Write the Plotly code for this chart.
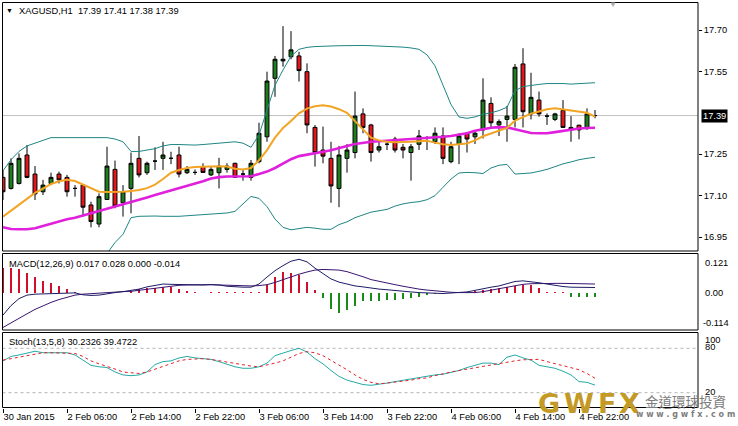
import plotly.graph_objects as go

# ---------------- data ----------------
opens = [17.166, 17.126, 17.144, 17.247, 17.178, 17.114, 17.144, 17.178, 17.166, 17.126,
         17.138, 17.066, 16.997, 17.086, 17.195, 17.074, 17.126, 17.235, 17.183, 17.225,
         17.235, 17.235, 17.247, 17.183, 17.184, 17.205, 17.175, 17.183, 17.195, 17.217,
         17.178, 17.166, 17.223, 17.313, 17.525, 17.588, 17.603, 17.606, 17.549, 17.347,
         17.265, 17.235, 17.126, 17.235, 17.256, 17.396, 17.356, 17.265, 17.286, 17.305,
         17.275, 17.256, 17.286, 17.307, 17.295, 17.316, 17.223, 17.286, 17.326, 17.313,
         17.338, 17.434, 17.356, 17.376, 17.376, 17.577, 17.396, 17.446, 17.388, 17.376,
         17.408, 17.338, 17.355, 17.347, 17.39]
highs = [17.193, 17.235, 17.253, 17.283, 17.207, 17.157, 17.183, 17.187, 17.175, 17.138,
         17.142, 17.078, 17.108, 17.277, 17.227, 17.138, 17.256, 17.316, 17.223, 17.275,
         17.295, 17.259, 17.277, 17.207, 17.195, 17.217, 17.205, 17.237, 17.217, 17.219,
         17.195, 17.229, 17.364, 17.549, 17.606, 17.714, 17.696, 17.621, 17.579, 17.356,
         17.350, 17.295, 17.280, 17.287, 17.477, 17.416, 17.360, 17.295, 17.295, 17.313,
         17.287, 17.287, 17.338, 17.316, 17.347, 17.347, 17.295, 17.326, 17.328, 17.332,
         17.525, 17.456, 17.376, 17.425, 17.577, 17.634, 17.545, 17.477, 17.398, 17.400,
         17.446, 17.388, 17.357, 17.416, 17.41]
lows = [17.084, 17.122, 17.140, 17.163, 17.084, 17.102, 17.138, 17.144, 17.096, 17.096,
        17.024, 16.985, 16.985, 17.084, 17.054, 17.024, 17.036, 17.166, 17.175, 17.193,
        17.193, 17.214, 17.166, 17.178, 17.175, 17.183, 17.171, 17.126, 17.183, 17.164,
        17.154, 17.154, 17.217, 17.295, 17.458, 17.567, 17.594, 17.513, 17.326, 17.205,
        17.217, 17.074, 17.058, 17.183, 17.235, 17.326, 17.223, 17.256, 17.265, 17.256,
        17.235, 17.154, 17.265, 17.265, 17.287, 17.214, 17.217, 17.214, 17.256, 17.287,
        17.307, 17.347, 17.316, 17.295, 17.347, 17.347, 17.376, 17.386, 17.356, 17.370,
        17.347, 17.295, 17.304, 17.338, 17.38]
closes = [17.114, 17.217, 17.235, 17.166, 17.106, 17.138, 17.166, 17.157, 17.114, 17.126,
          17.058, 17.006, 17.096, 17.207, 17.062, 17.114, 17.217, 17.175, 17.217, 17.225,
          17.247, 17.235, 17.178, 17.195, 17.184, 17.184, 17.195, 17.207, 17.207, 17.166,
          17.178, 17.217, 17.326, 17.515, 17.594, 17.594, 17.628, 17.553, 17.356, 17.256,
          17.243, 17.135, 17.247, 17.265, 17.388, 17.347, 17.256, 17.277, 17.286, 17.265,
          17.265, 17.277, 17.316, 17.307, 17.326, 17.235, 17.277, 17.316, 17.305, 17.326,
          17.446, 17.364, 17.368, 17.388, 17.565, 17.404, 17.456, 17.396, 17.388, 17.396,
          17.347, 17.347, 17.338, 17.396, 17.39]

bb_upper = [17.19, 17.23, 17.26, 17.28, 17.29, 17.30, 17.31, 17.31, 17.31, 17.31,
            17.31, 17.31, 17.31, 17.31, 17.305, 17.295, 17.26, 17.26, 17.265, 17.27,
            17.28, 17.285, 17.285, 17.283, 17.283, 17.285, 17.288, 17.29, 17.293, 17.295,
            17.29, 17.275, 17.32, 17.41, 17.50, 17.555, 17.605, 17.63, 17.637, 17.64,
            17.64, 17.642, 17.643, 17.644, 17.644, 17.644, 17.643, 17.642, 17.641, 17.64,
            17.638, 17.635, 17.63, 17.61, 17.57, 17.50, 17.43, 17.385, 17.38, 17.385,
            17.395, 17.40, 17.408, 17.42, 17.48, 17.495, 17.50, 17.503, 17.506, 17.507,
            17.506, 17.504, 17.505, 17.507, 17.509]
bb_lower = [16.80, 16.78, 16.76, 16.75, 16.74, 16.74, 16.75, 16.76, 16.77, 16.79,
            16.82, 16.84, 16.86, 16.89, 16.93, 16.96, 17.02, 17.025, 17.026, 17.026,
            17.025, 17.024, 17.025, 17.027, 17.03, 17.031, 17.033, 17.035, 17.037, 17.043,
            17.07, 17.097, 17.09, 17.06, 17.015, 16.985, 16.976, 16.98, 16.985, 16.982,
            16.978, 16.978, 16.995, 17.005, 17.02, 17.03, 17.04, 17.045, 17.05, 17.062,
            17.07, 17.075, 17.078, 17.085, 17.10, 17.13, 17.16, 17.182, 17.184, 17.183,
            17.18, 17.20, 17.21, 17.213, 17.178, 17.18, 17.182, 17.188, 17.195, 17.205,
            17.215, 17.222, 17.23, 17.235, 17.239]
ma_fast = [17.024, 17.045, 17.065, 17.088, 17.11, 17.125, 17.142, 17.152, 17.157, 17.153,
           17.14, 17.125, 17.114, 17.113, 17.113, 17.114, 17.117, 17.12, 17.127, 17.14,
           17.16, 17.183, 17.193, 17.20, 17.204, 17.205, 17.206, 17.206, 17.205, 17.197,
           17.195, 17.20, 17.228, 17.265, 17.31, 17.345, 17.37, 17.398, 17.415, 17.424,
           17.427, 17.423, 17.413, 17.40, 17.37, 17.34, 17.31, 17.30, 17.295, 17.293,
           17.293, 17.295, 17.297, 17.299, 17.292, 17.286, 17.283, 17.285, 17.289, 17.30,
           17.315, 17.325, 17.335, 17.345, 17.372, 17.385, 17.397, 17.405, 17.413, 17.416,
           17.412, 17.408, 17.406, 17.40, 17.386]
ma_slow = [16.985, 16.979, 16.978, 16.978, 16.982, 16.99, 17.00, 17.008, 17.014, 17.02,
           17.028, 17.035, 17.043, 17.051, 17.06, 17.068, 17.076, 17.084, 17.093, 17.102,
           17.11, 17.119, 17.128, 17.135, 17.142, 17.152, 17.162, 17.167, 17.169, 17.169,
           17.169, 17.17, 17.178, 17.187, 17.20, 17.217, 17.232, 17.243, 17.249, 17.254,
           17.259, 17.264, 17.273, 17.28, 17.287, 17.292, 17.295, 17.297, 17.299, 17.301,
           17.302, 17.303, 17.305, 17.307, 17.31, 17.313, 17.316, 17.32, 17.326, 17.335,
           17.341, 17.346, 17.348, 17.347, 17.34, 17.333, 17.327, 17.326, 17.326, 17.33,
           17.335, 17.34, 17.343, 17.345, 17.346]

macd_main = [-0.070, -0.040, -0.018, -0.007, -0.004, -0.003, -0.001, 0.000, 0.001, 0.000,
             -0.006, -0.008, -0.007, -0.002, 0.001, 0.004, 0.007, 0.012, 0.019, 0.024,
             0.028, 0.027, 0.026, 0.025, 0.024, 0.025, 0.026, 0.025, 0.021, 0.019,
             0.018, 0.018, 0.028, 0.050, 0.070, 0.086, 0.100, 0.106, 0.098, 0.078,
             0.060, 0.044, 0.034, 0.028, 0.022, 0.019, 0.015, 0.012, 0.010, 0.007,
             0.005, 0.003, 0.001, -0.001, -0.001, -0.002, -0.001, 0.000, 0.003, 0.008,
             0.014, 0.018, 0.022, 0.030, 0.036, 0.038, 0.036, 0.032, 0.028, 0.023,
             0.020, 0.018, 0.017, 0.017, 0.017]
macd_signal = [-0.109, -0.094, -0.080, -0.066, -0.052, -0.040, -0.030, -0.021, -0.013, -0.007,
               -0.004, -0.002, -0.001, 0.001, 0.003, 0.004, 0.005, 0.008, 0.011, 0.015,
               0.019, 0.022, 0.024, 0.025, 0.026, 0.026, 0.026, 0.025, 0.024, 0.023,
               0.022, 0.022, 0.023, 0.026, 0.033, 0.042, 0.051, 0.059, 0.066, 0.072,
               0.074, 0.074, 0.072, 0.067, 0.060, 0.051, 0.042, 0.036, 0.031, 0.026,
               0.021, 0.016, 0.012, 0.009, 0.006, 0.004, 0.002, 0.001, 0.001, 0.001,
               0.004, 0.009, 0.014, 0.019, 0.024, 0.027, 0.029, 0.030, 0.030, 0.030,
               0.030, 0.029, 0.029, 0.028, 0.028]
macd_hist = [0.078, 0.078, 0.074, 0.062, 0.051, 0.039, 0.032, 0.022, 0.011, 0.004,
             0.0, 0.0, 0.0, 0.0, 0.0, 0.0, 0.007, 0.011, 0.014, 0.017,
             0.020, 0.020, 0.011, 0.007, 0.002, 0.001, 0.002, 0.002, 0.002, 0.002,
             0.002, 0.002, 0.003, 0.025, 0.050, 0.067, 0.062, 0.057, 0.035, 0.009,
             -0.017, -0.052, -0.062, -0.054, -0.041, -0.027, -0.027, -0.025, -0.023, -0.021,
             -0.019, -0.016, -0.013, -0.006, -0.002, -0.002, 0.0, 0.001, 0.003, 0.007,
             0.009, 0.011, 0.014, 0.018, 0.022, 0.025, 0.025, 0.015, 0.002, 0.002,
             0.002, -0.012, -0.012, -0.013, -0.014]

stoch_k = [63, 69, 71, 74, 76, 74, 74, 74, 74, 71,
           64, 57, 55, 54, 48, 44, 43, 44, 48, 58,
           62, 63, 67, 69, 67, 66, 65, 62, 58, 55,
           53, 53, 55, 60, 70, 74, 77, 80, 75, 66,
           59, 50, 42, 37, 34, 31, 30, 31, 33, 35,
           37, 39, 41, 42, 44, 45, 47, 50, 54, 57,
           60, 60, 58, 68, 71, 67, 64, 57, 55, 53,
           49, 44, 35, 34, 30.2326]
stoch_d = [64, 66, 68, 71, 73, 74, 74, 74, 74, 73,
           69, 63, 59, 56, 52, 48, 47, 46, 48, 52,
           56, 60, 63, 65, 66, 66, 65, 63, 62, 60,
           58, 56, 55, 57, 60, 63, 68, 73, 75.5, 74,
           70, 64, 58, 51, 44, 38, 34, 32, 33, 34,
           35, 37, 39, 40, 43, 46, 48, 50, 52, 54,
           55, 57, 59, 61, 63, 64.5, 65, 65, 62, 59,
           57, 54, 51, 46, 39.4722]

tick_index = [0, 8, 16, 24, 32, 40, 48, 56, 64, 72]
tick_labels = ["30 Jan 2015", "2 Feb 06:00", "2 Feb 14:00", "2 Feb 22:00", "3 Feb 06:00",
               "3 Feb 14:00", "3 Feb 22:00", "4 Feb 06:00", "4 Feb 14:00", "4 Feb 22:00"]
price_ticks = [16.95, 17.10, 17.25, 17.55, 17.70]
last_price = 17.39
macd_scale = [0.121, 0.00, -0.114]
stoch_levels = [80, 20]

# ---------------- figure ----------------
W, H = 738, 426
FONT = "Liberation Sans"
FS = 9.3


def px(v):
    return v / W


def py(v):
    return 1 - v / H


x = list(range(len(closes)))
LEFT, RIGHT = 2.5, 698
MAIN = (2.5, 251)
MACD = (253.5, 330)
STOCH = (332.5, 407.5)

fig = go.Figure()

fig.add_trace(go.Candlestick(
    x=x, open=opens, high=highs, low=lows, close=closes,
    increasing=dict(fillcolor="#1d7d1d", line=dict(color="#000000", width=1)),
    decreasing=dict(fillcolor="#e3161e", line=dict(color="#000000", width=1)),
    whiskerwidth=0, showlegend=False, hoverinfo="skip", xaxis="x", yaxis="y"))

for ys, col, w in [(bb_upper, "#1f8585", 1), (bb_lower, "#1f8585", 1),
                   (ma_slow, "#e020dc", 2.6), (ma_fast, "#f2a424", 2)]:
    fig.add_trace(go.Scatter(x=x, y=ys, mode="lines", line=dict(color=col, width=w),
                             showlegend=False, hoverinfo="skip", xaxis="x", yaxis="y"))

hist_colors = ["#d0102a" if v >= 0 else "#1a8a1a" for v in macd_hist]
fig.add_trace(go.Bar(x=x, y=macd_hist, width=0.16, marker=dict(color=hist_colors, line=dict(width=0)),
                     showlegend=False, hoverinfo="skip", xaxis="x", yaxis="y2"))
fig.add_trace(go.Scatter(x=x, y=macd_signal, mode="lines", line=dict(color="#3a1470", width=1),
                         showlegend=False, hoverinfo="skip", xaxis="x", yaxis="y2"))
fig.add_trace(go.Scatter(x=x, y=macd_main, mode="lines", line=dict(color="#1c1c66", width=1),
                         showlegend=False, hoverinfo="skip", xaxis="x", yaxis="y2"))

fig.add_trace(go.Scatter(x=x, y=stoch_k, mode="lines", line=dict(color="#25aaa6", width=1),
                         showlegend=False, hoverinfo="skip", xaxis="x", yaxis="y3"))
fig.add_trace(go.Scatter(x=x, y=stoch_d, mode="lines", line=dict(color="#e5202a", width=1, dash="3px,3px"),
                         showlegend=False, hoverinfo="skip", xaxis="x", yaxis="y3"))

shapes = []
for top, bot in (MAIN, MACD, STOCH):
    shapes.append(dict(type="rect", xref="paper", yref="paper", x0=px(LEFT), x1=px(RIGHT),
                       y0=py(bot), y1=py(top), line=dict(color="#000000", width=1),
                       fillcolor="rgba(0,0,0,0)", layer="above"))
shapes.append(dict(type="line", xref="paper", yref="y", x0=px(LEFT), x1=px(RIGHT),
                   y0=last_price, y1=last_price, line=dict(color="#c0c0c0", width=1), layer="below"))
for lv in stoch_levels:
    shapes.append(dict(type="line", xref="paper", yref="y3", x0=px(LEFT), x1=px(RIGHT),
                       y0=lv, y1=lv, line=dict(color="#b4b4b4", width=1, dash="3px,3px"), layer="below"))

ann = []


def text(xp, yp, s, color="#000000", size=FS, xanchor="left", yanchor="middle", **kw):
    ann.append(dict(x=px(xp), y=py(yp), xref="paper", yref="paper", text=s, showarrow=False,
                    xanchor=xanchor, yanchor=yanchor, font=dict(family=kw.pop("family", FONT), size=size,
                                                                color=color, weight=kw.pop("weight", "normal")), **kw))


text(9, 10.5, "▼", size=7, xanchor="center")
text(17, 11, "XAGUSD,H1  17.39 17.41 17.38 17.39")
text(613, 4.5, "▼", color="#a8a8a8", size=8, xanchor="center")
text(6.5, 263.5, "MACD(12,26,9) 0.017 0.028 0.000 -0.014")
text(6.5, 342, "Stoch(13,5,8) 30.2326 39.4722")

# current price label
ann.append(dict(x=px(701), y=last_price, xref="paper", yref="y", text="17.39", showarrow=False,
                xanchor="left", yanchor="middle", bgcolor="#000000", borderpad=1,
                font=dict(family=FONT, size=FS, color="#ffffff")))

# MACD and stochastic scale labels
macd_y = {0.121: 263, 0.00: 293, -0.114: 323}
for v in macd_scale:
    lbl = "%.3f" % v if v != 0 else "0.00"
    text(701 if v < 0 else 703, macd_y[v], lbl)
text(703, 339.5, "100")
text(703, 346.5, "80")
text(703, 391.5, "20")

# watermark logo
GOLD = "#c49a26"
for ch, xc in [("G", 549), ("W", 579), ("F", 607), ("X", 629)]:
    text(xc, 403, ch, color=GOLD, size=27, xanchor="center", family="DejaVu Sans", weight="bold")
text(685, 401, "金道環球投資", color="#7d7d7d", size=13.5, xanchor="center", family="Noto Sans CJK TC")
text(685, 414, "w w w . g w f x . c o m", color="#7d7d7d", size=8, xanchor="center", weight="bold",
     family="DejaVu Sans")

fig.update_layout(
    width=W, height=H, margin=dict(l=0, r=0, t=0, b=0),
    paper_bgcolor="#ffffff", plot_bgcolor="#ffffff",
    showlegend=False, bargap=0, boxgap=0.3,
    font=dict(family=FONT, size=FS, color="#000000"),
    xaxis=dict(domain=[px(LEFT), px(RIGHT)], range=[(LEFT - 3) / 8, (RIGHT - 3) / 8], anchor="y3",
               tickmode="array", tickvals=tick_index, ticktext=tick_labels,
               ticks="outside", ticklen=4, tickcolor="#000000", tickwidth=1,
               ticklabelposition="outside right", tickfont=dict(family=FONT, size=FS, color="#000000"),
               showgrid=False, zeroline=False, showline=False, fixedrange=True,
               rangeslider=dict(visible=False)),
    yaxis=dict(domain=[py(MAIN[1]), py(MAIN[0])], range=[17.70 - (MAIN[1] - 30) / 276, 17.70 + (30 - MAIN[0]) / 276],
               anchor="x", side="right", tickmode="array", tickvals=price_ticks,
               ticktext=["%.2f" % v for v in price_ticks], ticks="outside", ticklen=3,
               tickcolor="#000000", tickfont=dict(family=FONT, size=FS, color="#000000"),
               showgrid=False, zeroline=False, showline=False, fixedrange=True),
    yaxis2=dict(domain=[py(MACD[1]), py(MACD[0])], range=[-(MACD[1] - 292.9) / 317, (292.9 - MACD[0]) / 317],
                anchor="x", side="right", showticklabels=False, ticks="",
                showgrid=False, zeroline=False, showline=False, fixedrange=True),
    yaxis3=dict(domain=[py(STOCH[1]), py(STOCH[0])], range=[0, (STOCH[1] - STOCH[0]) / 0.74],
                anchor="x", side="right", showticklabels=False, ticks="",
                showgrid=False, zeroline=False, showline=False, fixedrange=True),
    shapes=shapes, annotations=ann,
)

fig.write_html("out.html", config={"displayModeBar": False, "staticPlot": True},
               post_script="document.body.style.margin='0';document.body.style.overflow='hidden';")
